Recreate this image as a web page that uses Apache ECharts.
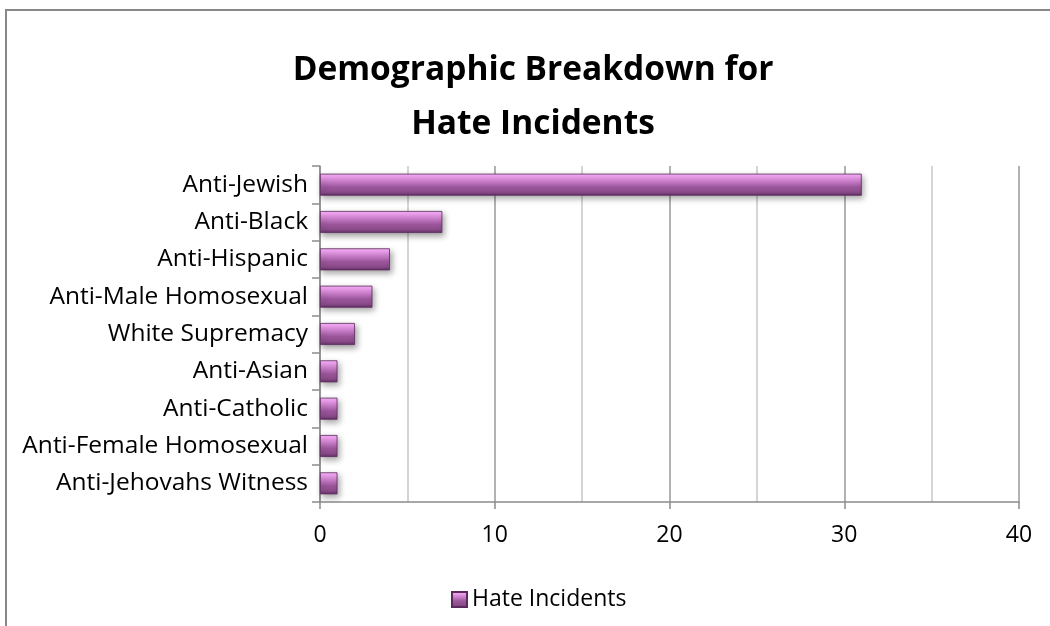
<!DOCTYPE html>
<html>
<head>
<meta charset="utf-8">
<script src="https://cdn.jsdelivr.net/npm/echarts@6/dist/echarts.min.js"></script>
<style>html,body{margin:0;padding:0;background:#fff}#c{width:1050px;height:626px}</style>
</head>
<body>
<div id="c"></div>
<script>
const categories = ["Anti-Jewish","Anti-Black","Anti-Hispanic","Anti-Male Homosexual","White Supremacy","Anti-Asian","Anti-Catholic","Anti-Female Homosexual","Anti-Jehovahs Witness"];
const hateIncidents = [31,7,4,3,2,1,1,1,1];
const xTicks = [0,10,20,30,40];
const seriesName = "Hate Incidents";
const titleText = "Demographic Breakdown for\nHate Incidents";

const FONT = "'Open Sans', 'Noto Sans', sans-serif";
const chart = echarts.init(document.getElementById('c'));
const barColor = new echarts.graphic.LinearGradient(0,0,0,1,[
  {offset:0, color:'#f7b6f7'},
  {offset:0.15, color:'#ef9fef'},
  {offset:0.38, color:'#c47ac4'},
  {offset:0.6, color:'#9c579c'},
  {offset:0.85, color:'#8a4a8a'},
  {offset:1, color:'#5e2e5e'}
]);
chart.setOption({
  animation:false,
  backgroundColor:'#fff',
  title:{text:titleText, left:528, top:38, textAlign:'center',
    textStyle:{fontFamily:FONT, fontSize:33.5, fontWeight:'bold', color:'#000', lineHeight:54}},
  graphic:[{type:'rect', shape:{x:6,y:10,width:1200,height:800}, style:{fill:'none', stroke:'#888', lineWidth:2}, silent:true}],
  legend:{data:[seriesName], left:446, top:583, itemWidth:15, itemHeight:15, itemGap:6,
    icon:'rect',
    textStyle:{fontFamily:FONT, fontSize:23, color:'#000'}},
  grid:{left:320, right:31, top:166, bottom:124, containLabel:false},
  xAxis:{type:'value', min:xTicks[0], max:xTicks[xTicks.length-1], interval:10,
    axisLine:{show:true, lineStyle:{color:'#8c8c8c', width:1.5}},
    axisTick:{show:true, length:7, lineStyle:{color:'#8c8c8c', width:1.5}},
    axisLabel:{fontFamily:FONT, fontSize:23, color:'#000', margin:22},
    splitLine:{show:true, lineStyle:{color:'#999', width:1.5}},
    minorTick:{show:false, splitNumber:2},
    minorSplitLine:{show:true, lineStyle:{color:'#c8c8c8', width:1.5}}},
  yAxis:{type:'category', data:categories, inverse:true,
    axisLine:{show:true, onZero:false, lineStyle:{color:'#8c8c8c', width:1.5}},
    axisTick:{show:true, length:8, lineStyle:{color:'#8c8c8c', width:1.5}},
    axisLabel:{fontFamily:FONT, fontSize:24.5, color:'#000', margin:12},
    splitLine:{show:false}},
  series:[{name:seriesName, type:'bar', data:hateIncidents, barWidth:22,
    itemStyle:{color:barColor, borderColor:'#5a2a5a', borderWidth:0.8,
      shadowColor:'rgba(0,0,0,0.35)', shadowBlur:6, shadowOffsetX:2, shadowOffsetY:3}}]
});
</script>
</body>
</html>
